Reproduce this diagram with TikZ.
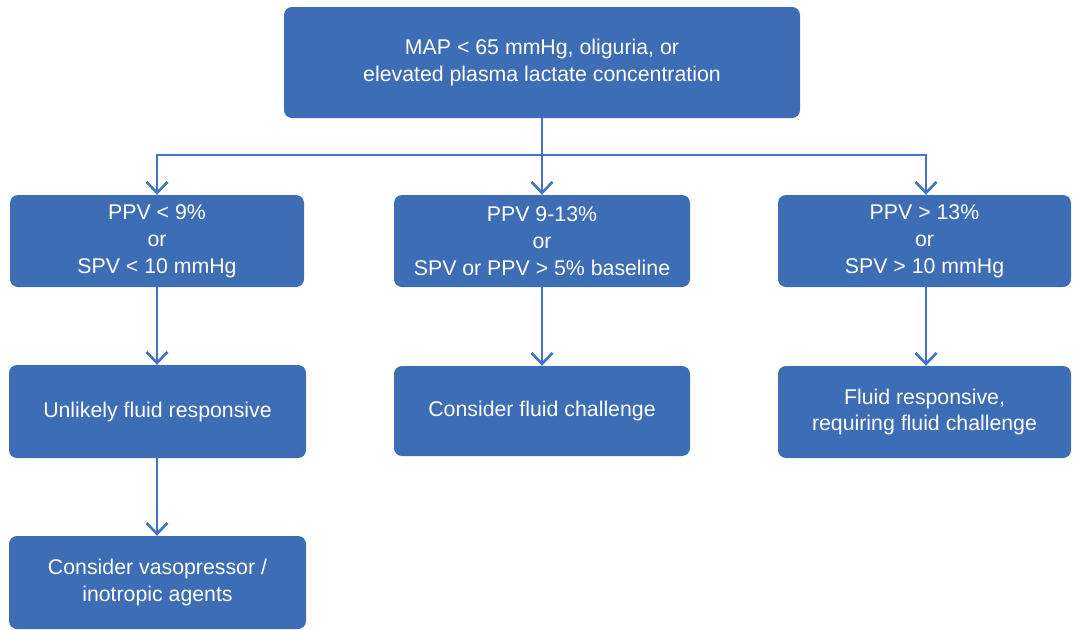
\documentclass[tikz,border=0pt]{standalone}
\usepackage{fontspec}
\setmainfont{Liberation Sans}
\usetikzlibrary{arrows.meta}
\definecolor{boxblue}{HTML}{3D6DB5}
\definecolor{linkblue}{HTML}{4472C4}
\begin{document}
\begin{tikzpicture}[x=1pt,y=-1pt,
  flowbox/.style={draw=none,fill=boxblue,rounded corners=8pt,text=white,align=center,
    font=\fontsize{21.3}{26.8}\selectfont,inner sep=0pt},
  link/.style={draw=linkblue,line width=2.6pt,-{Straight Barb[length=11pt,width=21pt,line width=2.6pt]}}]
\useasboundingbox (0,0) rectangle (1073,629);
\node[flowbox,minimum width=516pt,minimum height=111pt] (top) at (542,62.5) {MAP < 65 mmHg, oliguria, or\\elevated plasma lactate concentration};
\node[flowbox,minimum width=294pt,minimum height=92pt] (l2) at (157,241) {PPV < 9\%\\or\\SPV < 10 mmHg};
\node[flowbox,minimum width=296pt,minimum height=92pt] (m2) at (542,241) {PPV 9-13\%\\or\\SPV or PPV > 5\% baseline};
\node[flowbox,minimum width=293pt,minimum height=92pt] (r2) at (924.5,241) {PPV > 13\%\\or\\SPV > 10 mmHg};
\node[flowbox,minimum width=297pt,minimum height=93pt] (l3) at (157.5,411.5) {Unlikely fluid responsive};
\node[flowbox,minimum width=296pt,minimum height=90pt] (m3) at (542,411) {Consider fluid challenge};
\node[flowbox,minimum width=293pt,minimum height=92pt] (r3) at (924.5,412) {Fluid responsive,\\requiring fluid challenge};
\node[flowbox,minimum width=297pt,minimum height=93pt] (l4) at (157.5,582.5) {Consider vasopressor /\\inotropic agents};
\coordinate (jl) at (157,155);
\coordinate (jr) at (926,155);
\draw[link] (top.south) -- (m2.north);
\draw[link] (top.south |- jl) -- (jl) -- (jl |- l2.north);
\draw[link] (top.south |- jr) -- (jr) -- (jr |- r2.north);
\draw[link] (l2.south -| jl) -- (jl |- l3.north);
\draw[link] (m2.south) -- (m3.north);
\draw[link] (r2.south -| jr) -- (jr |- r3.north);
\draw[link] (l3.south -| jl) -- (jl |- l4.north);
\end{tikzpicture}
\end{document}
